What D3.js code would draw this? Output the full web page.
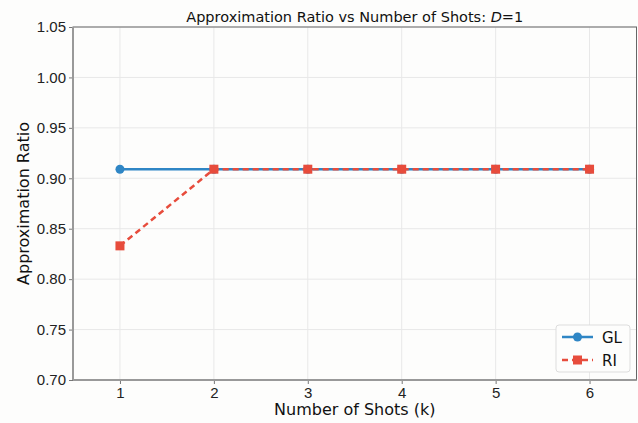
<!DOCTYPE html>
<html>
<head>
<meta charset="utf-8">
<script src="https://cdn.jsdelivr.net/npm/d3@7"></script>
<style>
  html, body { margin: 0; padding: 0; background: #fdfdfc; }
  svg { display: block; font-family: "DejaVu Sans", sans-serif; }
</style>
</head>
<body>
<svg id="chart" width="638" height="423"></svg>
<script>
// Number of shots on the x axis
const shots = [1, 2, 3, 4, 5, 6];
// Approximation ratio per method
const glValues = [0.909, 0.909, 0.909, 0.909, 0.909, 0.909];
const riValues = [0.833, 0.909, 0.909, 0.909, 0.909, 0.909];
const yTicks = [0.70, 0.75, 0.80, 0.85, 0.90, 0.95, 1.00, 1.05];
const seriesNames = ["GL", "RI"];

const W = 638, H = 423;
const margin = { left: 73, right: 1.5, top: 27, bottom: 43 };
const svg = d3.select("#chart");

const x = d3.scaleLinear().domain([0.5, 6.5]).range([margin.left, W - margin.right]);
const y = d3.scaleLinear().domain([0.70, 1.05]).range([H - margin.bottom, margin.top]);

const g = svg.append("g");

// grid
g.append("g").selectAll("line").data(shots).join("line")
  .attr("x1", d => x(d)).attr("x2", d => x(d))
  .attr("y1", y(0.70)).attr("y2", y(1.05))
  .attr("stroke", "#e8e8e8").attr("stroke-width", 1);
g.append("g").selectAll("line").data(yTicks).join("line")
  .attr("x1", x(0.5)).attr("x2", x(6.5))
  .attr("y1", d => y(d)).attr("y2", d => y(d))
  .attr("stroke", "#e8e8e8").attr("stroke-width", 1);

// axes
const xAxis = d3.axisBottom(x).tickValues(shots).tickFormat(d3.format("d")).tickSize(4).tickPadding(3);
const yAxis = d3.axisLeft(y).tickValues(yTicks).tickFormat(d3.format(".2f")).tickSize(4).tickPadding(3);

const gx = svg.append("g").attr("transform", `translate(0,${y(0.70)})`).call(xAxis);
const gy = svg.append("g").attr("transform", `translate(${x(0.5)},0)`).call(yAxis);
[gx, gy].forEach(a => {
  a.select(".domain").remove();
  a.selectAll(".tick line").attr("stroke", "#777");
  a.selectAll(".tick text").attr("fill", "#222").style("font-size", "15px");
});

// frame
svg.append("rect")
  .attr("x", x(0.5)).attr("y", y(1.05))
  .attr("width", x(6.5) - x(0.5)).attr("height", y(0.70) - y(1.05))
  .attr("fill", "none").attr("stroke", "#666").attr("stroke-width", 1);
svg.append("line").attr("x1", x(0.5)).attr("x2", x(0.5)).attr("y1", y(1.05)).attr("y2", y(0.70))
  .attr("stroke", "#999").attr("stroke-width", 2);
svg.append("line").attr("x1", x(0.5)).attr("x2", x(6.5)).attr("y1", y(0.70)).attr("y2", y(0.70))
  .attr("stroke", "#999").attr("stroke-width", 2);

// lines
const blue = "#2f86c5", red = "#e74c3c";
const line = d3.line().x((d, i) => x(shots[i])).y(d => y(d));

svg.append("path").datum(glValues).attr("d", line)
  .attr("fill", "none").attr("stroke", blue).attr("stroke-width", 2.5);
svg.append("g").selectAll("circle").data(glValues).join("circle")
  .attr("cx", (d, i) => x(shots[i])).attr("cy", d => y(d)).attr("r", 4.5).attr("fill", blue);

svg.append("path").datum(riValues).attr("d", line)
  .attr("fill", "none").attr("stroke", red).attr("stroke-width", 2.5).attr("stroke-dasharray", "6,4");
const sq = 9;
svg.append("g").selectAll("rect").data(riValues).join("rect")
  .attr("x", (d, i) => x(shots[i]) - sq / 2).attr("y", d => y(d) - sq / 2)
  .attr("width", sq).attr("height", sq).attr("fill", red);

// title
const title = svg.append("text").attr("x", (x(0.5) + x(6.5)) / 2).attr("y", 22)
  .attr("text-anchor", "middle").attr("fill", "#111").style("font-size", "14.5px");
title.append("tspan").text("Approximation Ratio vs Number of Shots: ");
title.append("tspan").attr("font-style", "italic").text("D");
title.append("tspan").text("=1");

// axis labels
svg.append("text").attr("x", (x(0.5) + x(6.5)) / 2).attr("y", 415)
  .attr("text-anchor", "middle").attr("fill", "#111").style("font-size", "16px")
  .text("Number of Shots (k)");
svg.append("text").attr("transform", `translate(29,${(y(0.70) + y(1.05)) / 2}) rotate(-90)`)
  .attr("text-anchor", "middle").attr("fill", "#111").style("font-size", "16px")
  .text("Approximation Ratio");

// legend
const lg = svg.append("g").attr("transform", "translate(556,325)");
lg.append("rect").attr("width", 74).attr("height", 47).attr("rx", 3)
  .attr("fill", "#fdfdfc").attr("stroke", "#ddd");
const colors = [blue, red];
seriesNames.forEach((name, i) => {
  const cy = 12 + i * 23;
  lg.append("line").attr("x1", 6).attr("x2", 37).attr("y1", cy).attr("y2", cy)
    .attr("stroke", colors[i]).attr("stroke-width", 2.5)
    .attr("stroke-dasharray", i === 1 ? "6,4" : null);
  if (i === 0) lg.append("circle").attr("cx", 21.5).attr("cy", cy).attr("r", 4.5).attr("fill", blue);
  else lg.append("rect").attr("x", 21.5 - sq / 2).attr("y", cy - sq / 2).attr("width", sq).attr("height", sq).attr("fill", red);
  lg.append("text").attr("x", 46).attr("y", cy + 5.5).attr("fill", "#111").style("font-size", "15px").text(name);
});
</script>
</body>
</html>
